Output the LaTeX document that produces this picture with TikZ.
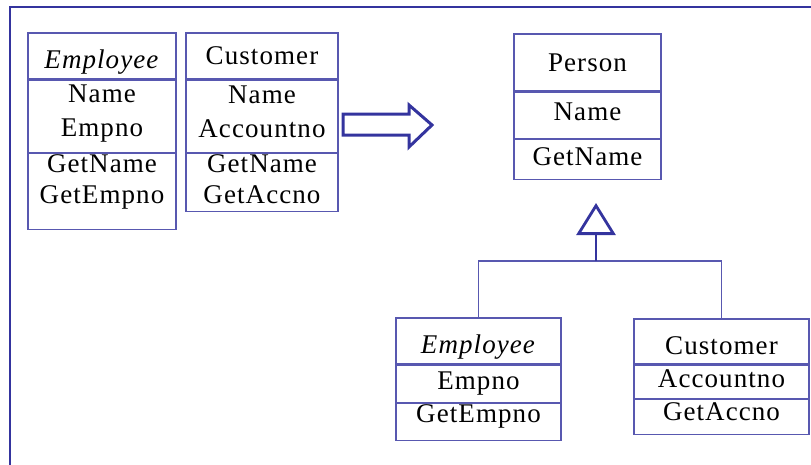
\documentclass[tikz,border=0pt]{standalone}
\usepackage{fontspec}
\setmainfont{Liberation Serif}[LetterSpace=4]
\usepackage{xcolor}
\usetikzlibrary{arrows.meta, positioning}
\definecolor{boxblue}{RGB}{88,88,176}
\definecolor{darkblue}{RGB}{52,52,158}
\newcommand{\umlfont}{\fontsize{27}{34}\selectfont}
\tikzset{
  part/.style={rectangle, draw=boxblue, line width=1.3pt, inner sep=0pt, align=center, font=\umlfont},
  head/.style={part, text depth=0pt, text height=24pt},
  link/.style={draw=boxblue, line width=1.3pt},
  inherit/.style={-{Triangle[open, length=32pt, width=39pt]}, line width=2.8pt, draw=darkblue},
  blockarrow/.style={draw=darkblue, line width=3pt, line join=miter},
  frame/.style={draw=darkblue, line width=2pt},
}

\begin{document}
\begin{tikzpicture}[x=1pt, y=-1pt]
  \useasboundingbox (0,0) rectangle (811,464);
  \clip (0,0) rectangle (811,464);
  \draw[frame] (10,7) rectangle (900,600);

  % Employee (before)
  \node[head, minimum width=148pt, minimum height=46pt] (empA1) at (102,56) {\textit{Employee}};
  \node[part, minimum width=148pt, minimum height=72pt, text depth=12pt, below=0pt of empA1] (empA2) {Name\\Empno};
  \node[part, minimum width=148pt, minimum height=76pt, text depth=25pt, below=0pt of empA2] (empA3) {GetName\\[-3pt]GetEmpno};

  % Customer (before)
  \node[part, minimum width=152pt, minimum height=46pt] (custA1) at (262,56) {Customer};
  \node[part, minimum width=152pt, minimum height=72pt, text depth=10pt, below=0pt of custA1] (custA2) {Name\\Accountno};
  \node[part, minimum width=152pt, minimum height=58pt, text depth=8pt, below=0pt of custA2] (custA3) {GetName\\[-3pt]GetAccno};

  % refactoring arrow
  \draw[blockarrow] (343,114) -- (409,114) -- (409,105) -- (432,125) -- (409,147) -- (409,135) -- (343,135) -- cycle;

  % Person (superclass)
  \node[part, minimum width=147pt, minimum height=57pt] (pers1) at (587.5,62.5) {Person};
  \node[part, minimum width=147pt, minimum height=46pt, text depth=8pt, below=0pt of pers1] (pers2) {Name};
  \node[part, minimum width=147pt, minimum height=40pt, text depth=6pt, below=0pt of pers2] (pers3) {GetName};

  % Employee (after)
  \node[head, minimum width=165pt, minimum height=46pt] (empB1) at (478.5,341) {\textit{Employee}};
  \node[part, minimum width=165pt, minimum height=37pt, below=0pt of empB1] (empB2) {Empno};
  \node[part, minimum width=165pt, minimum height=37pt, text depth=17pt, below=0pt of empB2] (empB3) {GetEmpno};

  % Customer (after)
  \node[part, minimum width=175pt, minimum height=45pt, text depth=0pt, text height=26pt] (custB1) at (721.5,341.5) {Customer};
  \node[part, minimum width=175pt, minimum height=33pt, text depth=6pt, below=0pt of custB1] (custB2) {Accountno};
  \node[part, minimum width=175pt, minimum height=35pt, text depth=12pt, below=0pt of custB2] (custB3) {GetAccno};

  % generalisation
  \coordinate (joint) at (596,261);
  \coordinate (apex) at (596,203);
  \draw[link] (empB1.north) |- (joint) -| (custB1.north);
  \draw[inherit] (joint) -- (apex);
\end{tikzpicture}
\end{document}
